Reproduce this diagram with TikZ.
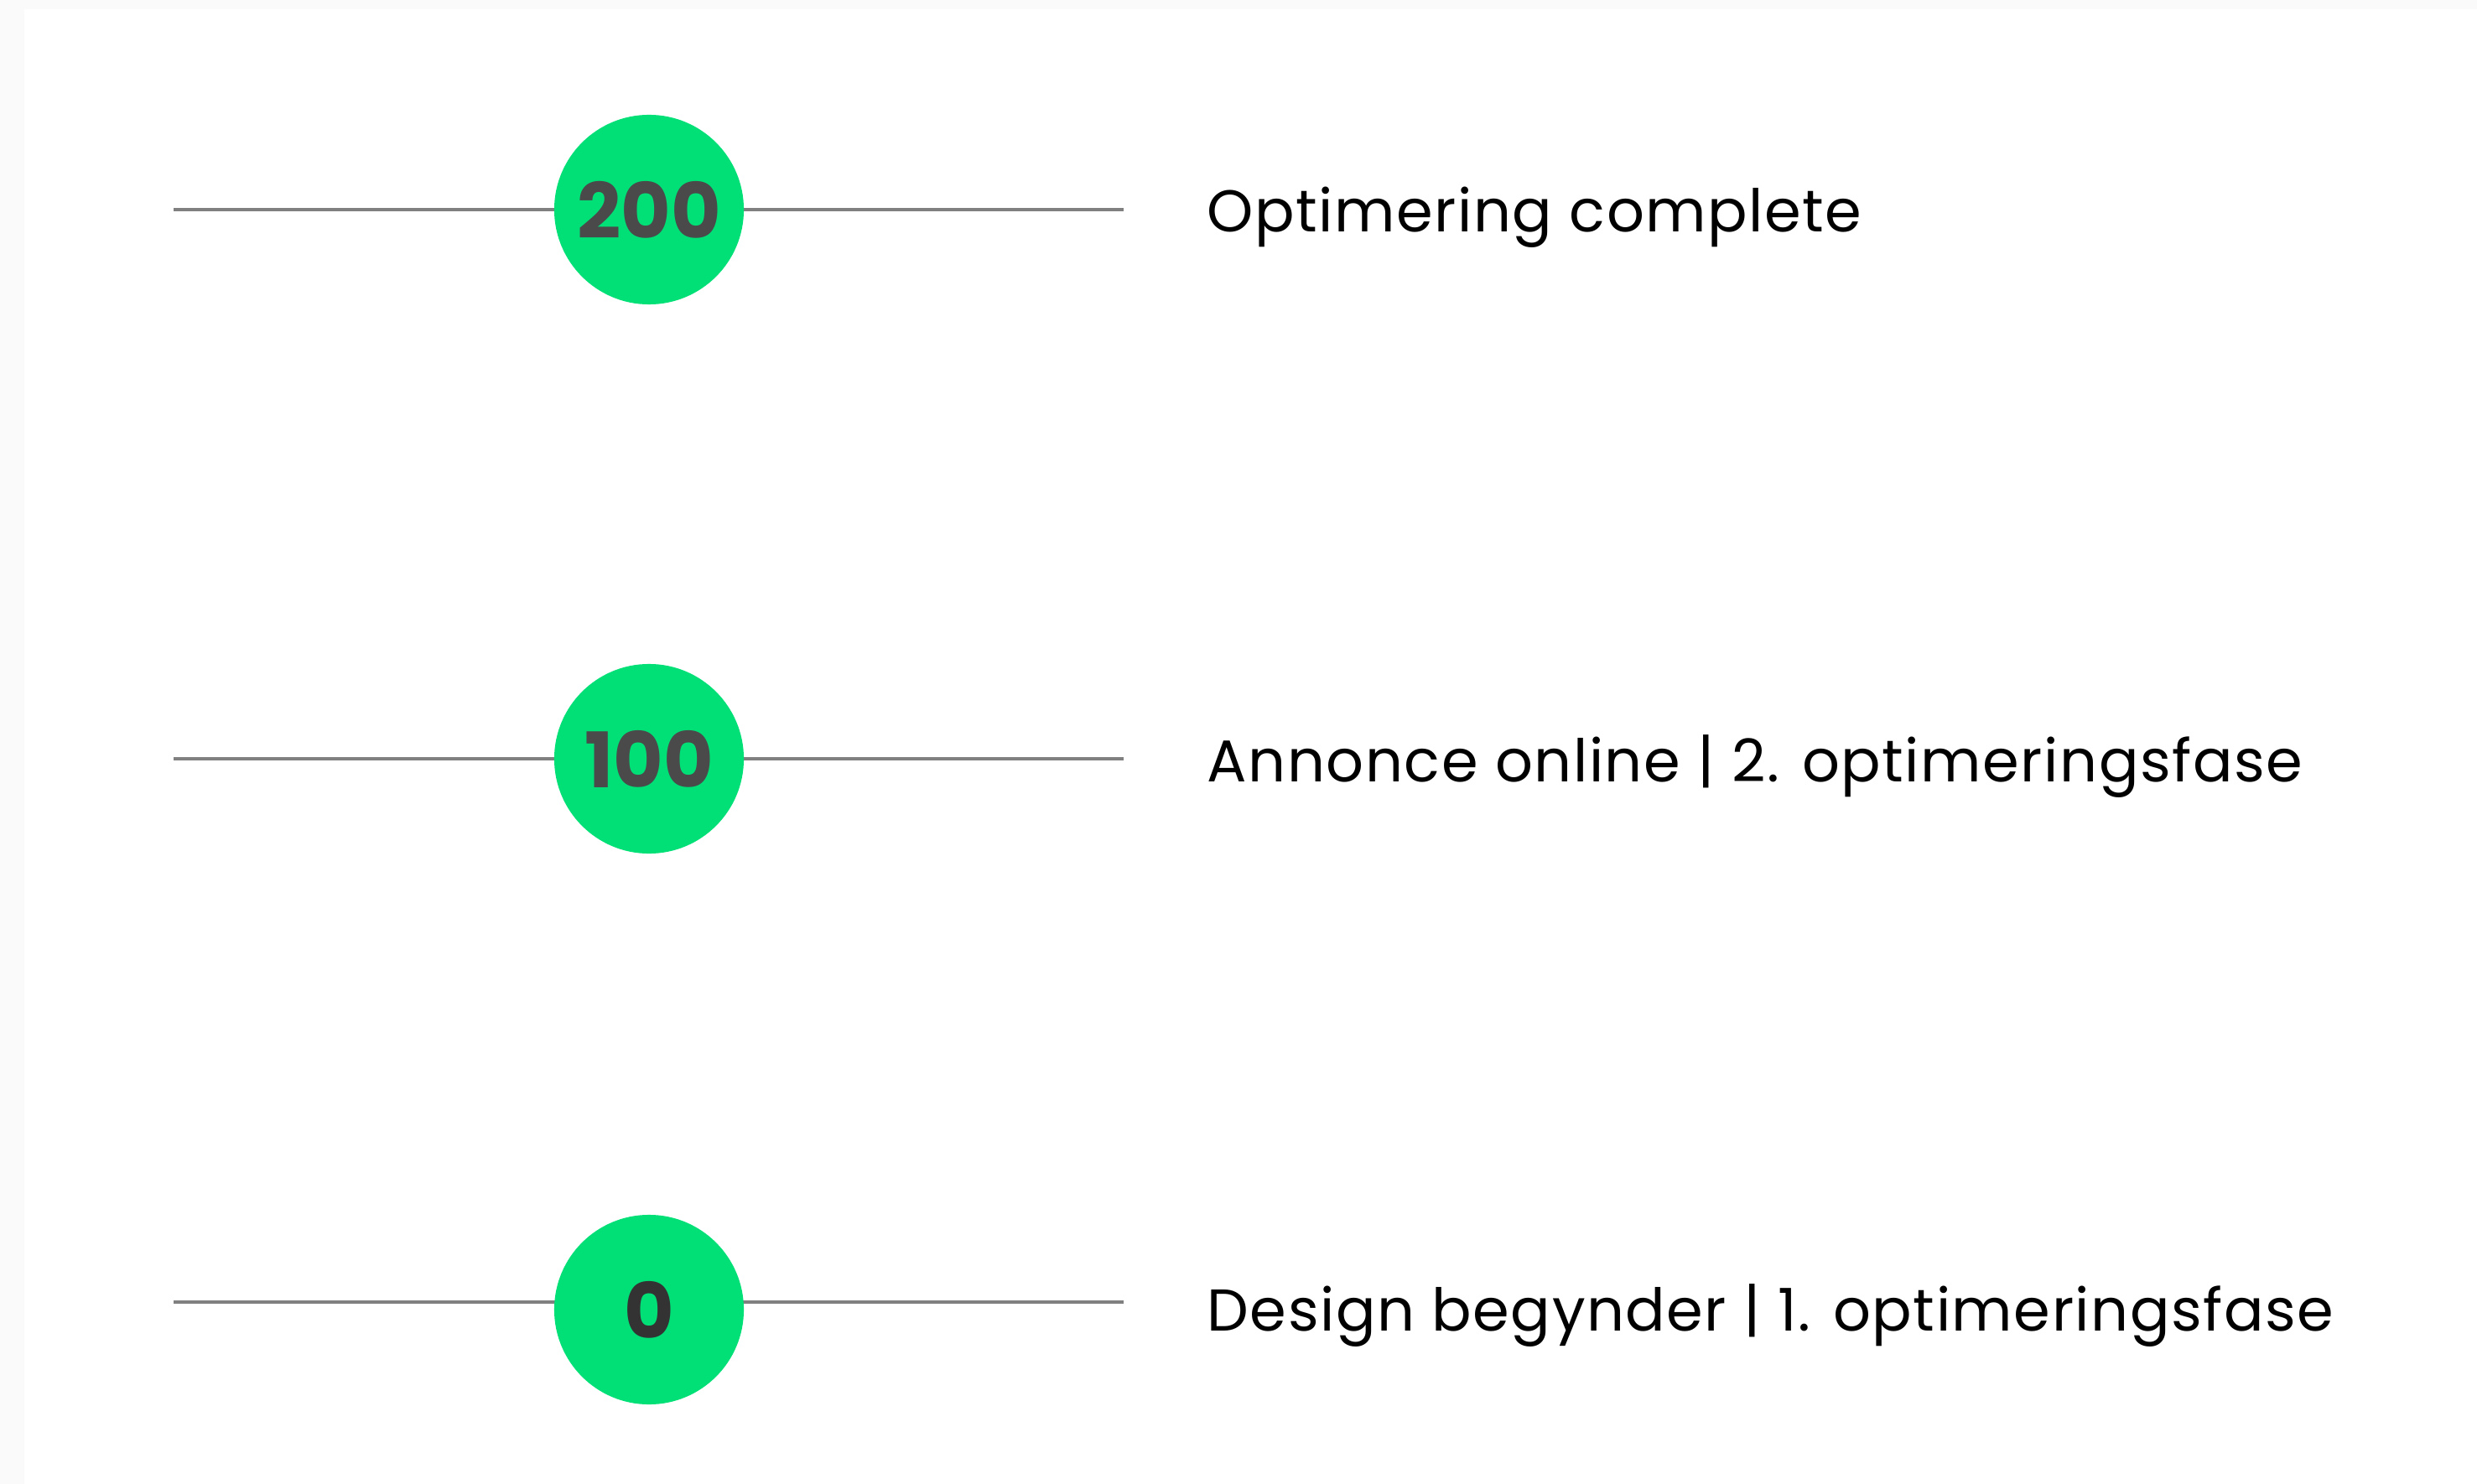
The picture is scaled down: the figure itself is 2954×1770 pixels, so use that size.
\documentclass[tikz,border=0pt]{standalone}
\usepackage{fontspec}
\setmainfont{Poppins}[Ligatures=NoCommon]
\newfontfamily\labelfont{Poppins}[Ligatures=NoCommon,LetterSpace=2.2]
\begin{document}
\begin{tikzpicture}[x=0.01cm,y=-0.01cm,
  stage/.style={circle,fill=mintgreen,draw=none,minimum size=2.26cm,inner sep=0pt,
    font=\fontsize{26}{30}\selectfont\bfseries,text=digitgray},
  rail/.style={draw=railgray,line width=1.1pt},
  caption/.style={anchor=base west,inner sep=0pt,font=\labelfont\fontsize{20}{24}\selectfont,text=black}]
  \definecolor{mintgreen}{HTML}{00E077}
  \definecolor{digitgray}{HTML}{4A4A4A}
  \definecolor{railgray}{HTML}{808080}
  \definecolor{pagegray}{HTML}{FAFAFA}
  % page and white panel
  \fill[pagegray] (0,0) rectangle (2954,1770);
  \fill[white] (29,11) rectangle (2954,1770);
  \useasboundingbox (0,0) rectangle (2954,1770);

  % rail end points
  \coordinate (a1) at (207,250);  \coordinate (b1) at (1340,250);
  \coordinate (a2) at (207,905);  \coordinate (b2) at (1340,905);
  \coordinate (a3) at (207,1553); \coordinate (b3) at (1340,1553);
  \draw[rail] (a1) -- (b1);
  \draw[rail] (a2) -- (b2);
  \draw[rail] (a3) -- (b3);

  % milestones
  \node[stage] (m200) at (774,250) {200};
  \node[stage] (m100) at (774,905) {100};
  \node[stage,text=black!80] (m0) at (774,1562) {0};

  % captions (placed on their baselines)
  \node[caption] (t200) at (1439,277) {Optimering complete};
  \node[caption] (t100) at (1439,932) {Annonce online | 2. optimeringsfase};
  \node[caption] (t0) at (1439,1587) {Design begynder | 1. optimeringsfase};
\end{tikzpicture}
\end{document}
